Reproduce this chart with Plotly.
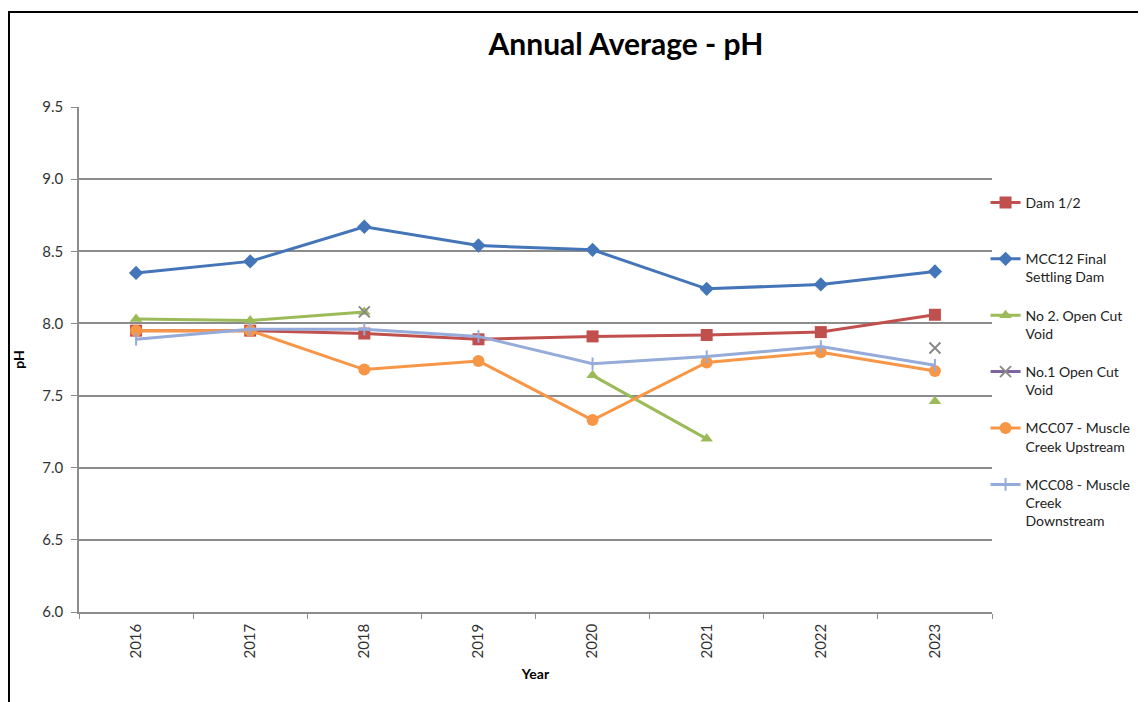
import plotly.graph_objects as go

years = ["2016", "2017", "2018", "2019", "2020", "2021", "2022", "2023"]

dam_12 = [7.95, 7.95, 7.93, 7.89, 7.91, 7.92, 7.94, 8.06]
mcc12 = [8.35, 8.43, 8.67, 8.54, 8.51, 8.24, 8.27, 8.36]
no2_void = [8.03, 8.02, 8.08, None, 7.64, 7.20, None, 7.46]
no1_void = [None, None, 8.08, None, None, None, None, 7.83]
mcc07 = [7.95, 7.95, 7.68, 7.74, 7.33, 7.73, 7.80, 7.67]
mcc08 = [7.89, 7.96, 7.96, 7.91, 7.72, 7.77, 7.84, 7.71]

FONT = "Lato"

fig = go.Figure()

# (name, values, colour, marker symbol, marker size)
series = [
    ("Dam 1/2<br>&nbsp;", dam_12, "#C0504D", "square", 12),
    ("MCC12 Final<br>Settling Dam", mcc12, "#4475B8", "diamond", 11),
    ("No 2. Open Cut<br>Void", no2_void, "#9BBB59", "triangle-up", 11),
    ("No.1 Open Cut<br>Void", no1_void, "#7F64A2", "x-thin-open", 11),
    ("MCC07 - Muscle<br>Creek Upstream", mcc07, "#F79646", "circle", 12),
    ("MCC08 - Muscle<br>Creek<br>Downstream", mcc08, "#95ABD9", "line-ns-open", 9),
]

for i, (name, vals, col, sym, size) in enumerate(series):
    mline = dict(width=2, color=col) if "open" in sym else dict(width=0)
    mcol = col
    if name.startswith("No.1"):
        mline = dict(width=2, color="#8a8a8a")
        mcol = "#8a8a8a"
    fig.add_trace(go.Scatter(
        x=years, y=vals, name=name, mode="lines+markers",
        line=dict(color=col, width=3),
        marker=dict(symbol=sym, size=size, color=mcol, line=mline),
        connectgaps=False, legendgroup=str(i),
    ))

# page body has an 8px margin, so the figure is sized/placed to compensate
fig.update_layout(
    width=1138, height=694,
    paper_bgcolor="white", plot_bgcolor="white",
    font=dict(family=FONT, size=14, color="#222"),
    margin=dict(l=71, r=154, t=99, b=90, autoexpand=False),
    title=dict(text="<b>Annual Average - pH</b>", font=dict(size=30, color="black"),
               x=0.543, xref="container", xanchor="center",
               y=0.947, yref="container", yanchor="middle"),
    legend=dict(x=0.859, xref="container", xanchor="left", y=0.842, yanchor="top",
                font=dict(size=14, color="#222"), valign="top",
                tracegroupgap=17, itemwidth=30, bgcolor="rgba(0,0,0,0)"),
    showlegend=True,
)

fig.update_yaxes(
    range=[6.0, 9.5], dtick=0.5, tickformat=".1f",
    showgrid=True, gridcolor="#8c8c8c", gridwidth=1.5,
    showline=True, linecolor="#8c8c8c", linewidth=1.5,
    ticks="outside", ticklen=6, tickcolor="#8c8c8c",
    tickfont=dict(size=15, color="#333"), ticklabelstandoff=5,
    title=dict(text="<b>pH</b>", font=dict(size=14, color="black"), standoff=14),
    zeroline=False,
)
fig.update_xaxes(
    type="category", tickangle=-90, tickson="boundaries",
    showgrid=False, showline=True, linecolor="#8c8c8c", linewidth=1.5,
    ticks="outside", ticklen=5, tickcolor="#8c8c8c",
    tickfont=dict(size=15, color="#333"), ticklabelstandoff=4,
    title=dict(text="<b>Year</b>", font=dict(size=14, color="black"), standoff=12),
    range=[-0.5, 7.5],
)

# chart border (left and top edges visible)
fig.add_shape(type="rect", xref="paper", yref="paper",
              x0=-0.0767, x1=1.2, y0=-0.25, y1=1.188,
              line=dict(color="black", width=2), fillcolor="rgba(0,0,0,0)", layer="below")

fig.write_html("out.html")
